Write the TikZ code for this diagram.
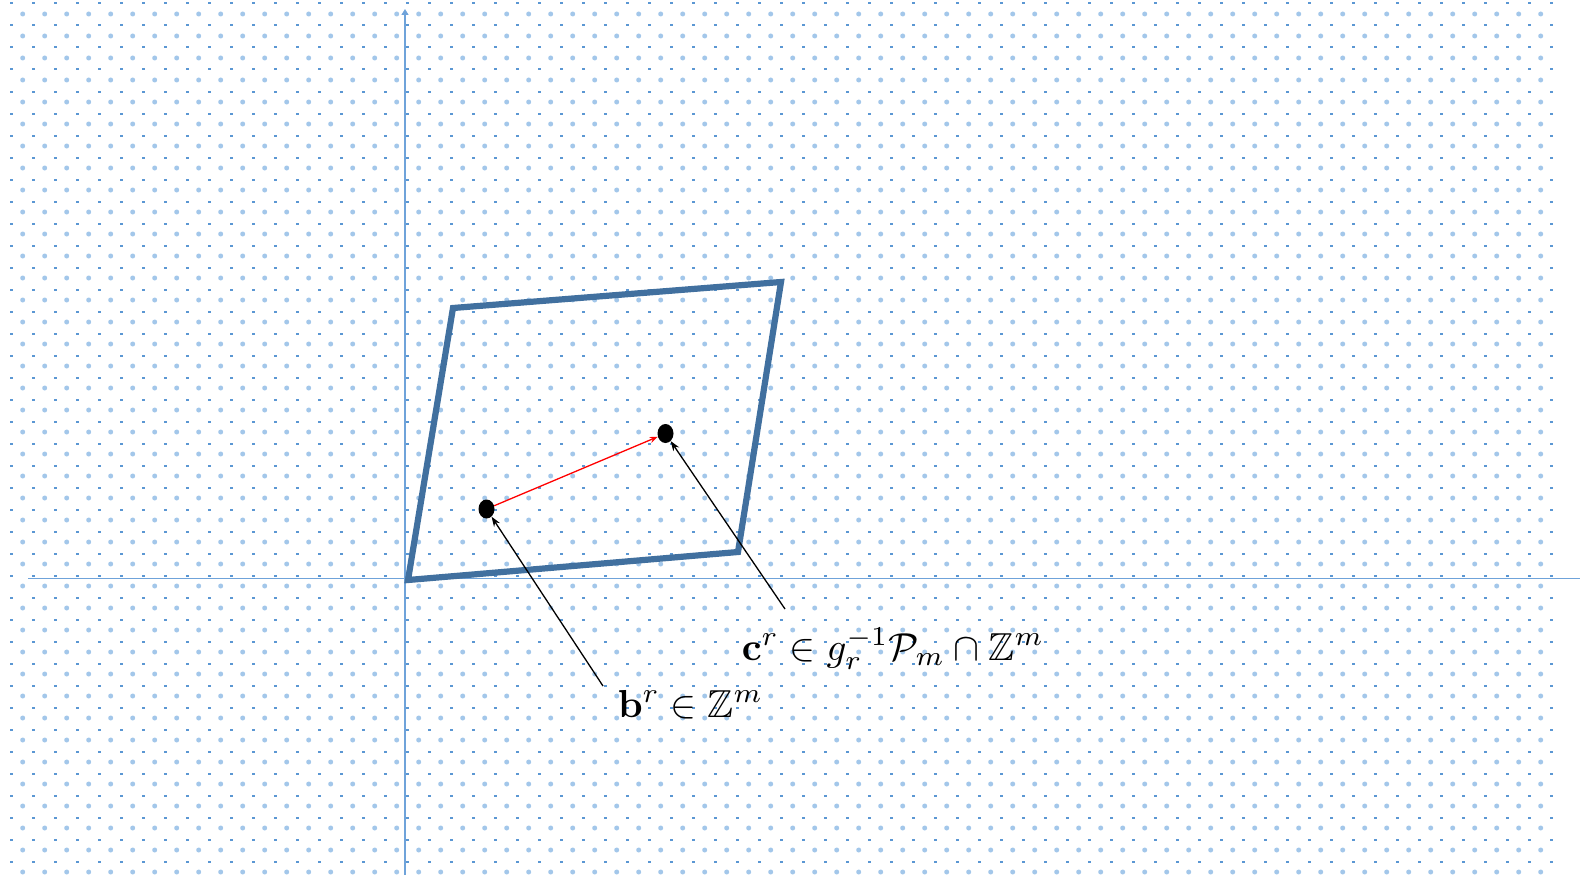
\documentclass[tikz,border=0pt]{standalone}
\usepackage{amsmath, amssymb}
\usetikzlibrary{arrows.meta, positioning, shapes.geometric}

\definecolor{dotblue}{HTML}{A3C7EA}
\definecolor{tickblue}{HTML}{5B97D3}
\definecolor{axisblue}{HTML}{6FA3DA}
\definecolor{cellblue}{HTML}{41709F}

\tikzset{
  pt/.style={ellipse, fill=black, inner sep=0pt, minimum width=16pt, minimum height=19pt},
  lbl/.style={scale=3.9, inner sep=0pt, anchor=base west},
  axis/.style={axisblue, line width=1.4pt},
  cell/.style={cellblue, line width=6.2pt, line join=miter},
  pointer/.style={-{Stealth[length=10pt,width=7pt]}, line width=1.3pt}
}

\begin{document}
\begin{tikzpicture}[x=1pt,y=-1pt]
  \useasboundingbox (0,0) rectangle (1580,875);
  \fill[white] (0,0) rectangle (1580,875);
  % lattice dots
  \foreach \i in {1,...,70}
    \foreach \j in {0,...,39}
      \fill[dotblue] (0.7+22*\i,14+22*\j) circle (2.5);
  \foreach \i in {0,...,70}
    \foreach \j in {0,...,39}
      \fill[tickblue] (10+22*\i,2.5+22*\j) rectangle (13+22*\i,4.5+22*\j);

  % axes
  \coordinate (o) at (405,578.5);
  \coordinate (xl) at (28,578.5);
  \coordinate (xr) at (1580,578.5);
  \coordinate (yb) at (405,875);
  \coordinate (yt) at (405,9);
  \draw[axis] (xl) -- (xr);
  \draw[axis,-{Triangle[length=6pt,width=7pt]}] (yb) -- (yt);

  % fundamental cell
  \coordinate (p0) at (408,580);
  \coordinate (p1) at (453,308);
  \coordinate (p2) at (781,282);
  \coordinate (p3) at (738,552);
  \draw[cell] (p0) -- (p1) -- (p2) -- (p3) -- cycle;

  % points
  \node[pt] (b) at (486.5,509) {};
  \node[pt] (c) at (665.5,433.5) {};
  \draw[red, line width=1.3pt, -{Stealth[length=8pt,width=6pt]}] (b) -- (c);

  % labels
  \node[lbl] (clbl) at (741,660) {$\mathbf{c}^r\in g_r^{-1}\mathcal{P}_m\cap\mathbb{Z}^m$};
  \node[lbl] (blbl) at (617,717) {$\mathbf{b}^r\in\mathbb{Z}^m$};
  \coordinate (ctail) at (785,609);
  \coordinate (btail) at (603,686);
  \draw[pointer] (ctail) -- (c);
  \draw[pointer] (btail) -- (b);
\end{tikzpicture}
\end{document}
